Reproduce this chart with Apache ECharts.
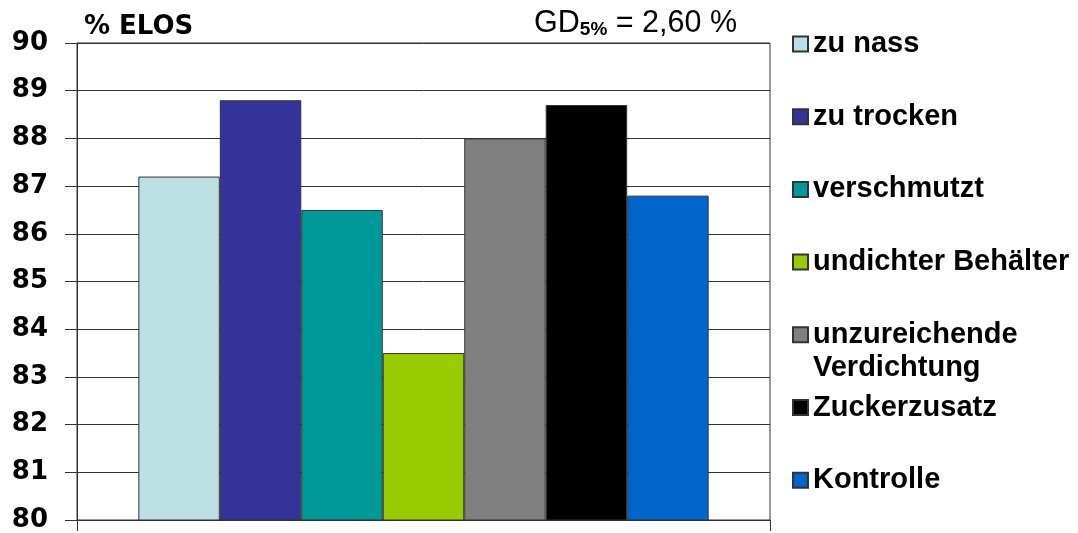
<!DOCTYPE html>
<html>
<head>
<meta charset="utf-8">
<script src="https://cdn.jsdelivr.net/npm/echarts@6/dist/echarts.min.js"></script>
<style>
  html, body { margin: 0; padding: 0; background: #fff; }
  #chart { width: 1078px; height: 533px; }
</style>
</head>
<body>
<div id="chart"></div>
<script>
// ELOS values (%) per silage condition
const seriesNames = ['zu nass', 'zu trocken', 'verschmutzt', 'undichter Behälter', 'unzureichende\nVerdichtung', 'Zuckerzusatz', 'Kontrolle'];
const seriesValues = [87.2, 88.8, 86.5, 83.5, 88.0, 88.7, 86.8];
const seriesColors = ['#BBDFE3', '#333399', '#009999', '#99CC00', '#808080', '#000000', '#0066CC'];
const categories = [''];
const yMin = 80, yMax = 90, yStep = 1;

const FONT = 'Liberation Sans, Arial, sans-serif';
const AXIS_FONT = 'DejaVu Sans, Liberation Sans, sans-serif';
const chart = echarts.init(document.getElementById('chart'), null, { renderer: 'canvas' });

const series = seriesNames.map((name, i) => ({
  type: 'bar',
  name: name,
  data: [seriesValues[i]],
  barGap: '0%',
  barCategoryGap: '17.7%',
  itemStyle: { color: seriesColors[i], borderColor: '#333', borderWidth: 1 },
  emphasis: { disabled: true }
}));

// one legend block per entry, stacked down the right side;
// a two-line label keeps its first line level with the swatch
const legends = seriesNames.map((name, i) => {
  const centerY = 44 + i * 72.7;
  const twoLine = name.indexOf('\n') >= 0;
  const textStyle = {
    fontFamily: FONT,
    fontSize: 29,
    fontWeight: 'bold',
    color: '#000',
    lineHeight: twoLine ? 33 : 30
  };
  if (twoLine) {
    textStyle.padding = [33, 0, 0, 0];
    textStyle.rich = { t: {} };
  }
  return {
    data: [name],
    orient: 'vertical',
    left: 792,
    top: twoLine ? centerY - 49.5 : centerY - 15,
    padding: 0,
    icon: 'rect',
    itemWidth: 15,
    itemHeight: 15,
    selectedMode: false,
    textStyle: textStyle
  };
});

chart.setOption({
  animation: false,
  backgroundColor: '#fff',
  title: {
    text: '{a|GD}{b|5%}{a| = 2,60 %}',
    right: 341,
    top: 9,
    padding: 0,
    textStyle: {
      rich: {
        a: { fontFamily: FONT, fontSize: 30.5, fontWeight: 'normal', color: '#000', lineHeight: 30, verticalAlign: 'bottom' },
        b: { fontFamily: FONT, fontSize: 19, fontWeight: 'bold', color: '#000', lineHeight: 17, verticalAlign: 'bottom' }
      }
    }
  },
  legend: legends,
  grid: {
    left: 77, right: 308, top: 43, bottom: 11,
    show: true, borderColor: '#333', borderWidth: 1, backgroundColor: 'transparent'
  },
  xAxis: {
    type: 'category',
    data: categories,
    boundaryGap: true,
    axisLine: { lineStyle: { color: '#333', width: 1 } },
    axisTick: { show: true, length: 11, lineStyle: { color: '#333' } },
    axisLabel: { show: false }
  },
  yAxis: {
    type: 'value',
    min: yMin,
    max: yMax,
    interval: yStep,
    name: '% ELOS',
    nameLocation: 'end',
    nameGap: 16,
    nameTextStyle: {
      fontFamily: AXIS_FONT, fontSize: 26, fontWeight: 'bold', color: '#000',
      align: 'left', verticalAlign: 'middle', padding: [0, 0, 0, 7]
    },
    axisLine: { show: true, lineStyle: { color: '#333', width: 1 } },
    axisTick: { show: true, length: 12, lineStyle: { color: '#333' } },
    axisLabel: { margin: 29, fontFamily: AXIS_FONT, fontSize: 26, fontWeight: 'bold', color: '#000' },
    splitLine: { show: true, lineStyle: { color: '#333', width: 1 } }
  },
  series: series
});
</script>
</body>
</html>
